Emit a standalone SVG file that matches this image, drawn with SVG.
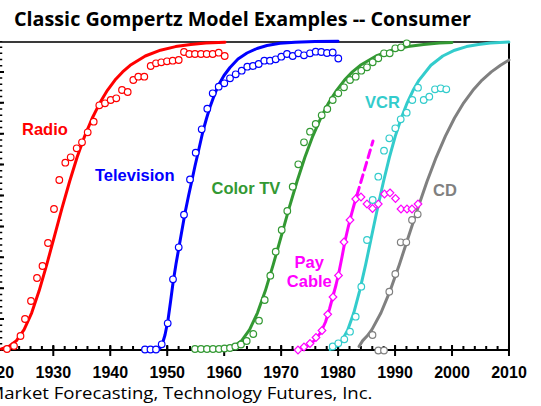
<svg xmlns="http://www.w3.org/2000/svg" xmlns:xlink="http://www.w3.org/1999/xlink" width="541" height="406" viewBox="0 0 541 406">
<style>
.ttl{font-family:"Open Sans","Liberation Sans",sans-serif;font-weight:bold;font-size:19.5px;fill:#000}
.src{font-family:"Open Sans","Liberation Sans",sans-serif;font-size:17px;fill:#000}
.lbl{font-family:"Liberation Sans",Arial,sans-serif;font-weight:bold;font-size:16.5px}
.ax{font-family:"Liberation Sans",Arial,sans-serif;font-weight:bold;font-size:16px;text-anchor:middle;fill:#000}
.crv{fill:none;stroke-width:3;stroke-linejoin:round;stroke-linecap:round}
.mk{fill:#fff;stroke-width:1.2}
.red{stroke:#FF0000}.blu{stroke:#0000FF}.grn{stroke:#339933}.cyn{stroke:#33CCCC}.mag{stroke:#FF00FF}.gry{stroke:#808080}
</style>
<defs>
<path id="dm" d="M0,-3.8 L3.8,0 L0,3.8 L-3.8,0Z"/>
</defs>
<rect width="541" height="406" fill="#fff"/>
<text class="ttl" x="14" y="26" textLength="457" lengthAdjust="spacingAndGlyphs">Classic Gompertz Model Examples -- Consumer</text>

<g id="frame">
<line x1="0" y1="42" x2="509" y2="42" stroke="#3a3a3a" stroke-width="2"/>
<line x1="509" y1="41" x2="509" y2="351" stroke="#000" stroke-width="2"/>
<line x1="1" y1="41" x2="1" y2="350" stroke="#000" stroke-width="2.5" stroke-dasharray="1.5 4.68" stroke-dashoffset="0.75"/>
<path d="M0 71.9h4M0 102.8h4M0 133.7h4M0 164.6h4M0 195.5h4M0 226.4h4M0 257.3h4M0 288.2h4M0 319.1h4" stroke="#000" stroke-width="2"/>
<line x1="0" y1="350" x2="510" y2="350" stroke="#000" stroke-width="2"/>
<line x1="-4.66" y1="347.5" x2="510" y2="347.5" stroke="#000" stroke-width="3" stroke-dasharray="2 9.392"/>
<path d="M53.3 345V356M110.26 345V356M167.22 345V356M224.18 345V356M281.14 345V356M338.1 345V356M395.06 345V356M452.02 345V356M508.98 345V356" stroke="#000" stroke-width="2"/>
</g>

<g id="x-labels">
<text class="ax" x="-3.7" y="377.6">1920</text>
<text class="ax" x="53.3" y="377.6">1930</text>
<text class="ax" x="110.3" y="377.6">1940</text>
<text class="ax" x="167.2" y="377.6">1950</text>
<text class="ax" x="224.2" y="377.6">1960</text>
<text class="ax" x="281.1" y="377.6">1970</text>
<text class="ax" x="338.1" y="377.6">1980</text>
<text class="ax" x="395.1" y="377.6">1990</text>
<text class="ax" x="452" y="377.6">2000</text>
<text class="ax" x="509" y="377.6">2010</text>
</g>

<g id="curves">
<polyline class="crv red" points="1.4,349 8.9,346.5 16.5,340.6 24.1,329.6 31.7,312.8 39.2,290.6 46.8,264.4 54.4,236.3 62,208.2 69.6,181.5 77.1,157.3 84.7,136.1 92.3,118 99.9,102.8 107.4,90.3 115,80.1 122.6,71.9 130.2,65.3 145.3,56 160.5,50.2 175.6,46.6 190.7,44.4 205.9,43.1 225,42.3"/>
<polyline class="crv blu" points="156,351 159,349.5 162,345 165,335 168,320 170.5,302 173,283 176,264 179,247 182,230 185,213 188.5,196 192,180 195,166 198,153 200.5,142 203,131 206.5,118.5 210,107 214,96 218,86 224,75.5 230,67.5 238,59 247,53 257,48.5 267,45.5 280,43.3 295,42.2 315,41.5 338,41.2"/>
<polyline class="crv grn" points="202,350.5 210,350.3 217.9,349.8 225.8,349 233.7,346.5 241.7,340.6 249.6,329.6 257.5,312.8 265.4,290.6 273.3,264.4 281.2,236.3 289.1,208.2 297,181.5 304.9,157.3 312.8,136.1 320.8,118 328.7,102.8 336.6,90.3 344.5,80.1 352.4,71.9 360.3,65.3 376.1,56 392,50.2 407.8,46.6 423.6,44.4 439.4,43.1 452,42.4"/>
<polyline class="crv mag" points="298,351 304,348 310,344.5 316,339 321,332 325.5,322 329.5,309 333,296 336,285 339,272 342,257 345,241 348,228 351,216 354,205 357,195"/>
<line class="crv mag" x1="357" y1="195" x2="373" y2="141" stroke-dasharray="8 5" stroke-linecap="butt"/>
<polyline class="crv cyn" points="330.1,349.5 336,346.5 341.9,340.6 347.9,329.6 353.8,312.8 359.7,290.6 365.7,264.4 371.6,236.3 377.5,208.2 383.5,181.5 389.4,157.3 395.3,136.1 401.3,118 407.2,102.8 413.1,90.3 419.1,80.1 430.9,65.3 442.8,56 454.7,50.2 466.5,46.6 478.4,44.4 490.3,43.1 508.8,42.1"/>
<polyline class="crv gry" points="359,346.5 362.7,340.6 367.3,335.8 371.9,329.6 381,312.8 390.2,290.6 399.4,264.4 408.6,236.3 417.8,208.2 427,181.5 436.2,157.3 445.4,136.1 454.5,118 463.7,102.8 472.9,90.3 482.1,80.1 491.3,71.9 500.5,65.3 509,60"/>
</g>

<g id="radio-data" class="mk red">
<circle cx="7" cy="349" r="3.3"/><circle cx="14" cy="346" r="3.3"/><circle cx="20.5" cy="336" r="3.3"/><circle cx="25" cy="319" r="3.3"/><circle cx="31" cy="301" r="3.3"/><circle cx="37" cy="278" r="3.3"/><circle cx="42.5" cy="266" r="3.3"/><circle cx="48" cy="243" r="3.3"/><circle cx="54" cy="209" r="3.3"/><circle cx="59.3" cy="180" r="3.3"/><circle cx="65.3" cy="162.7" r="3.3"/><circle cx="70.7" cy="157.3" r="3.3"/><circle cx="76.7" cy="148.3" r="3.3"/><circle cx="82" cy="142.3" r="3.3"/><circle cx="87.7" cy="132.3" r="3.3"/><circle cx="93.7" cy="121.7" r="3.3"/><circle cx="99.3" cy="105.3" r="3.3"/><circle cx="105" cy="103.3" r="3.3"/><circle cx="110.7" cy="100" r="3.3"/><circle cx="116.3" cy="98.3" r="3.3"/><circle cx="122" cy="90" r="3.3"/><circle cx="127.7" cy="92" r="3.3"/><circle cx="133.3" cy="80" r="3.3"/><circle cx="138.3" cy="76.7" r="3.3"/><circle cx="144.3" cy="76.7" r="3.3"/><circle cx="150.7" cy="66" r="3.3"/><circle cx="156" cy="63.3" r="3.3"/><circle cx="161.3" cy="62.3" r="3.3"/><circle cx="167" cy="61.3" r="3.3"/><circle cx="172.7" cy="60.7" r="3.3"/><circle cx="178.7" cy="60" r="3.3"/><circle cx="184" cy="52" r="3.3"/><circle cx="189.3" cy="54" r="3.3"/><circle cx="195" cy="54" r="3.3"/><circle cx="201" cy="54" r="3.3"/><circle cx="206.7" cy="54" r="3.3"/><circle cx="212.7" cy="54" r="3.3"/><circle cx="218.7" cy="52.7" r="3.3"/><circle cx="224.7" cy="56" r="3.3"/>
</g>

<g id="television-data" class="mk blu">
<circle cx="145" cy="349.5" r="3.3"/><circle cx="150.5" cy="349.5" r="3.3"/><circle cx="156" cy="349.5" r="3.3"/><circle cx="161.7" cy="344.3" r="3.3"/><circle cx="167.7" cy="323.3" r="3.3"/><circle cx="173" cy="279.3" r="3.3"/><circle cx="178.7" cy="247.3" r="3.3"/><circle cx="184" cy="214.7" r="3.3"/><circle cx="190" cy="179.5" r="3.3"/><circle cx="195.7" cy="152.7" r="3.3"/><circle cx="201.7" cy="129.3" r="3.3"/><circle cx="207.3" cy="108.7" r="3.3"/><circle cx="212.7" cy="93.3" r="3.3"/><circle cx="218.7" cy="86.7" r="3.3"/><circle cx="224.3" cy="83.3" r="3.3"/><circle cx="230" cy="78.3" r="3.3"/><circle cx="235.7" cy="74.3" r="3.3"/><circle cx="241.7" cy="70.7" r="3.3"/><circle cx="247.3" cy="66.7" r="3.3"/><circle cx="253" cy="66" r="3.3"/><circle cx="258.7" cy="64" r="3.3"/><circle cx="264.3" cy="60.7" r="3.3"/><circle cx="270" cy="60.7" r="3.3"/><circle cx="275.7" cy="59.3" r="3.3"/><circle cx="281.3" cy="56.7" r="3.3"/><circle cx="287" cy="54" r="3.3"/><circle cx="292.7" cy="56" r="3.3"/><circle cx="298.3" cy="53.3" r="3.3"/><circle cx="304" cy="55.3" r="3.3"/><circle cx="310" cy="53.3" r="3.3"/><circle cx="315.7" cy="51.7" r="3.3"/><circle cx="321.3" cy="52" r="3.3"/><circle cx="327" cy="53" r="3.3"/><circle cx="332.7" cy="52.5" r="3.3"/><circle cx="338.3" cy="58.5" r="3.3"/>
</g>

<g id="colortv-data" class="mk grn">
<circle cx="195" cy="349" r="3.3"/><circle cx="201" cy="349" r="3.3"/><circle cx="207" cy="349" r="3.3"/><circle cx="213" cy="349" r="3.3"/><circle cx="219" cy="349" r="3.3"/><circle cx="224.5" cy="348.5" r="3.3"/><circle cx="230" cy="348" r="3.3"/><circle cx="235.3" cy="346.5" r="3.3"/><circle cx="241" cy="344.5" r="3.3"/><circle cx="246.7" cy="341" r="3.3"/><circle cx="253.3" cy="334" r="3.3"/><circle cx="259" cy="320.7" r="3.3"/><circle cx="264.7" cy="300" r="3.3"/><circle cx="270.3" cy="275.7" r="3.3"/><circle cx="275.7" cy="251.7" r="3.3"/><circle cx="281.7" cy="230" r="3.3"/><circle cx="287.3" cy="211" r="3.3"/><circle cx="292.7" cy="186.7" r="3.3"/><circle cx="298.3" cy="164.3" r="3.3"/><circle cx="304" cy="142.3" r="3.3"/><circle cx="310" cy="131.7" r="3.3"/><circle cx="315.7" cy="124" r="3.3"/><circle cx="321.7" cy="115.3" r="3.3"/><circle cx="327.3" cy="109" r="3.3"/><circle cx="332.7" cy="100" r="3.3"/><circle cx="338.3" cy="93.3" r="3.3"/><circle cx="344" cy="87.3" r="3.3"/><circle cx="350" cy="80" r="3.3"/><circle cx="355.7" cy="76.7" r="3.3"/><circle cx="361.3" cy="70.7" r="3.3"/><circle cx="367" cy="67.3" r="3.3"/><circle cx="372.7" cy="62.3" r="3.3"/><circle cx="378.3" cy="58.3" r="3.3"/><circle cx="384" cy="53.3" r="3.3"/><circle cx="389.7" cy="53.3" r="3.3"/><circle cx="395.3" cy="48.3" r="3.3"/><circle cx="401" cy="47.3" r="3.3"/><circle cx="406.7" cy="43.3" r="3.3"/>
</g>

<g id="paycable-data" class="mk mag">
<use xlink:href="#dm" x="298" y="350"/><use xlink:href="#dm" x="304" y="347"/><use xlink:href="#dm" x="310" y="343.5"/><use xlink:href="#dm" x="316" y="337.5"/><use xlink:href="#dm" x="322" y="330.5"/><use xlink:href="#dm" x="327.7" y="314.3"/><use xlink:href="#dm" x="333" y="297"/><use xlink:href="#dm" x="338.5" y="275.5"/><use xlink:href="#dm" x="344" y="242"/><use xlink:href="#dm" x="350" y="220"/><use xlink:href="#dm" x="355.7" y="199"/><use xlink:href="#dm" x="361" y="197"/><use xlink:href="#dm" x="367" y="204"/><use xlink:href="#dm" x="372.5" y="208.5"/><use xlink:href="#dm" x="378.3" y="204"/><use xlink:href="#dm" x="384.5" y="194"/><use xlink:href="#dm" x="390" y="192.8"/><use xlink:href="#dm" x="395.5" y="198.5"/><use xlink:href="#dm" x="401" y="209"/><use xlink:href="#dm" x="407" y="209"/><use xlink:href="#dm" x="412" y="209"/><use xlink:href="#dm" x="418" y="204"/>
</g>

<g id="vcr-data" class="mk cyn">
<circle cx="332.7" cy="346.5" r="3.3"/><circle cx="338.3" cy="343.3" r="3.3"/><circle cx="344.3" cy="339.3" r="3.3"/><circle cx="350" cy="331.7" r="3.3"/><circle cx="355.7" cy="316.7" r="3.3"/><circle cx="361.3" cy="286.7" r="3.3"/><circle cx="367" cy="240" r="3.3"/><circle cx="372.7" cy="200" r="3.3"/><circle cx="378.3" cy="176.7" r="3.3"/><circle cx="384" cy="150.7" r="3.3"/><circle cx="389.3" cy="138.3" r="3.3"/><circle cx="395.3" cy="128.3" r="3.3"/><circle cx="400.7" cy="119.3" r="3.3"/><circle cx="406.7" cy="112.7" r="3.3"/><circle cx="412.3" cy="100" r="3.3"/><circle cx="418" cy="87.7" r="3.3"/><circle cx="423.7" cy="100" r="3.3"/><circle cx="429.3" cy="96.7" r="3.3"/><circle cx="435" cy="89.3" r="3.3"/><circle cx="440.7" cy="88.3" r="3.3"/><circle cx="446.3" cy="89.3" r="3.3"/>
</g>

<g id="cd-data" class="mk gry">
<circle cx="372.5" cy="335" r="3.3"/><circle cx="378.3" cy="350.5" r="3.3"/><circle cx="384" cy="350.5" r="3.3"/><circle cx="389.3" cy="291.7" r="3.3"/><circle cx="395.3" cy="274" r="3.3"/><circle cx="400.7" cy="242.3" r="3.3"/><circle cx="406.3" cy="242.3" r="3.3"/><circle cx="412" cy="220" r="3.3"/><circle cx="417.7" cy="214.3" r="3.3"/>
</g>

<g id="labels">
<text id="lbl-radio" class="lbl" x="22" y="135" fill="#FF0000">Radio</text>
<text id="lbl-tv" class="lbl" x="95" y="181" fill="#0000FF">Television</text>
<text id="lbl-color" class="lbl" x="211.5" y="193.5" fill="#339933">Color TV</text>
<text id="lbl-pay" class="lbl" x="309.3" y="267.5" fill="#FF00FF" text-anchor="middle">Pay</text>
<text id="lbl-cable" class="lbl" x="309.3" y="287" fill="#FF00FF" text-anchor="middle">Cable</text>
<text id="lbl-vcr" class="lbl" x="365" y="107.5" fill="#33CCCC">VCR</text>
<text id="lbl-cd" class="lbl" x="433" y="196" fill="#808080">CD</text>
</g>

<text class="src" x="-12.5" y="399" textLength="385" lengthAdjust="spacingAndGlyphs">Market Forecasting, Technology Futures, Inc.</text>
</svg>
